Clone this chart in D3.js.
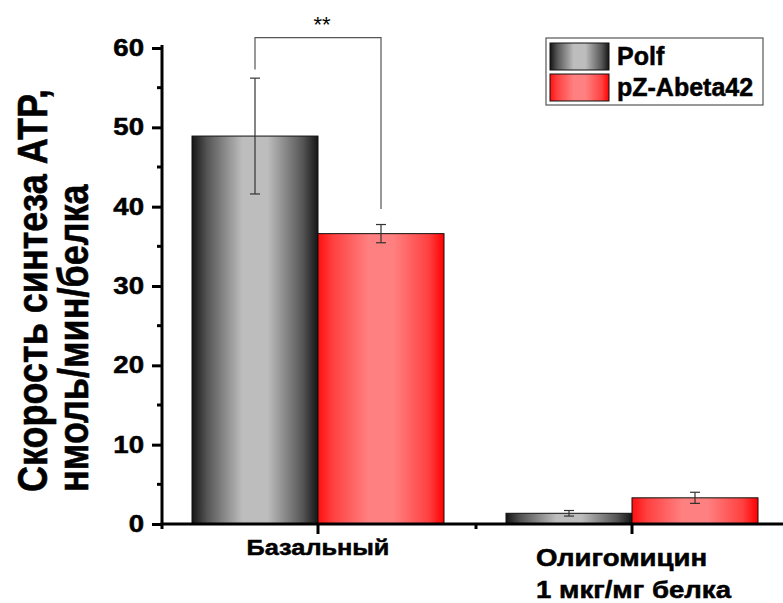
<!DOCTYPE html>
<html>
<head>
<meta charset="utf-8">
<script src="https://cdn.jsdelivr.net/npm/d3@7"></script>
<style>
  body { margin: 0; background: #fff; }
  svg { display: block; font-family: "Liberation Sans", Arial, sans-serif; }
  .heavy { stroke: #000; stroke-width: 0.5px; }
</style>
</head>
<body>
<div id="chart"></div>
<script>
const categories = ["Базальный", "Олигомицин|1 мкг/мг белка"];
const series = ["Polf", "pZ-Abeta42"];
const polfValues = [48.9, 1.35];
const polfErrors = [7.3, 0.35];
const abetaValues = [36.6, 3.3];
const abetaErrors = [1.15, 0.7];
const yTicks = [0, 10, 20, 30, 40, 50, 60];
// bracket: [left bottom, top, right bottom] in data units
const bracketLevels = [57.3, 61.3, 39.7];
const bracketLabel = "**";
const yTitle = ["Скорость синтеза АТР,", "нмоль/мин/белка"];

const width = 783, height = 603;
const svg = d3.select("#chart").append("svg")
  .attr("width", width)
  .attr("height", height);

const x = d3.scaleBand().domain(categories).range([161, 789]);
const xs = d3.scaleBand().domain(series).range([-126, 126]);
const y = d3.scaleLinear().domain([0, 60]).range([524, 48]);

const defs = svg.append("defs");
const grad = (id, stops) => {
  const g = defs.append("linearGradient").attr("id", id)
    .attr("x1", "0%").attr("x2", "100%").attr("y1", "0%").attr("y2", "0%");
  stops.forEach(([o, c]) => g.append("stop").attr("offset", o).attr("stop-color", c));
};
grad("gPolf", [["0%", "#151515"], ["12%", "#555"], ["40%", "#bdbdbd"], ["60%", "#bdbdbd"], ["88%", "#555"], ["100%", "#151515"]]);
grad("gAbeta", [["0%", "#ff1010"], ["12%", "#ff4040"], ["40%", "#ff8080"], ["60%", "#ff8080"], ["88%", "#ff4040"], ["100%", "#ff0000"]]);

const rows = categories.map((c, i) => [
  { cat: c, s: series[0], v: polfValues[i], e: polfErrors[i], fill: "url(#gPolf)" },
  { cat: c, s: series[1], v: abetaValues[i], e: abetaErrors[i], fill: "url(#gAbeta)" }
]).flat();

const cx = d => x(d.cat) + x.bandwidth() / 2 + xs(d.s);

svg.selectAll("rect.bar")
  .data(rows)
  .join("rect")
  .attr("class", "bar")
  .attr("x", cx)
  .attr("y", d => y(d.v))
  .attr("width", xs.bandwidth())
  .attr("height", d => y(0) - y(d.v))
  .attr("fill", d => d.fill)
  .attr("stroke", "#111")
  .attr("stroke-width", 1);

// error bars
const eb = svg.selectAll("g.err").data(rows).join("g").attr("class", "err")
  .attr("stroke", "#333").attr("stroke-width", 1.2);
const mid = d => cx(d) + xs.bandwidth() / 2;
eb.append("line").attr("x1", mid).attr("x2", mid)
  .attr("y1", d => y(d.v + d.e)).attr("y2", d => y(d.v - d.e));
eb.append("line").attr("x1", d => mid(d) - 5).attr("x2", d => mid(d) + 5)
  .attr("y1", d => y(d.v + d.e)).attr("y2", d => y(d.v + d.e));
eb.append("line").attr("x1", d => mid(d) - 5).attr("x2", d => mid(d) + 5)
  .attr("y1", d => y(d.v - d.e)).attr("y2", d => y(d.v - d.e));

// y axis
const yAxis = svg.append("g").attr("transform", "translate(162,0)")
  .call(d3.axisLeft(y).tickValues(yTicks).tickSize(10).tickPadding(9).tickFormat(d3.format("d")));
yAxis.select(".domain").attr("stroke-width", 3).attr("d", `M0,${y(60) - 3}V${y(0)}`);
yAxis.selectAll(".tick line").attr("stroke-width", 3);
yAxis.selectAll(".tick text")
  .attr("x", 0)
  .attr("class", "heavy")
  .attr("transform", "translate(-18,0) scale(1.2,1)")
  .attr("font-size", 23).attr("font-weight", "bold").attr("fill", "#000")
  .attr("font-family", "Liberation Sans, Arial, sans-serif");
svg.append("g").attr("transform", "translate(162,0)")
  .selectAll("line").data(d3.range(5, 60, 10)).join("line")
  .attr("x1", -5).attr("x2", 0).attr("y1", d => y(d)).attr("y2", d => y(d))
  .attr("stroke", "#000").attr("stroke-width", 3);

// x axis
svg.append("line").attr("x1", 160.5).attr("x2", 790).attr("y1", y(0)).attr("y2", y(0))
  .attr("stroke", "#000").attr("stroke-width", 3);
svg.selectAll("line.xmaj").data(categories).join("line").attr("class", "xmaj")
  .attr("x1", d => x(d) + x.bandwidth() / 2).attr("x2", d => x(d) + x.bandwidth() / 2)
  .attr("y1", y(0)).attr("y2", y(0) + 10).attr("stroke", "#000").attr("stroke-width", 3);
svg.selectAll("line.xmin").data(categories).join("line").attr("class", "xmin")
  .attr("x1", d => x(d) + 1).attr("x2", d => x(d) + 1)
  .attr("y1", y(0)).attr("y2", y(0) + 5).attr("stroke", "#000").attr("stroke-width", 3);

// x labels
svg.selectAll("g.xl").data(categories).join("g").attr("class", "xl")
  .each(function (d) {
    const parts = d.split("|");
    const c = x(d) + x.bandwidth() / 2;
    const g = d3.select(this);
    if (parts.length === 1) {
      g.append("text").attr("class", "heavy").attr("transform", `translate(${c},555) scale(1.15,1)`)
        .attr("text-anchor", "middle").attr("font-size", 22).attr("font-weight", "bold")
        .text(parts[0]);
    } else {
      parts.forEach((p, j) => g.append("text").attr("class", "heavy")
        .attr("transform", `translate(${c - 96},${566 + j * 32}) scale(1.2,1)`)
        .attr("font-size", 23).attr("font-weight", "bold").text(p));
    }
  });

// y title
svg.selectAll("text.yt").data(yTitle).join("text").attr("class", "yt heavy")
  .attr("transform", (d, i) => `translate(${47 + i * 41},492) scale(1.2,1) rotate(-90)`)
  .attr("font-size", 36).attr("font-weight", "bold").attr("fill", "#000")
  .text(d => d);

// significance bracket
const bx1 = mid(rows[0]), bx2 = mid(rows[1]);
svg.append("path")
  .attr("d", `M${bx1},${y(bracketLevels[0])}V${y(bracketLevels[1])}H${bx2}V${y(bracketLevels[2])}`)
  .attr("fill", "none").attr("stroke", "#555").attr("stroke-width", 1.2);
svg.append("text").attr("x", (bx1 + bx2) / 2 + 4).attr("y", 32).attr("text-anchor", "middle")
  .attr("font-size", 22).attr("fill", "#000").text(bracketLabel);

// legend
const lg = svg.append("g").attr("transform", "translate(546,38)");
lg.append("rect").attr("width", 217).attr("height", 67).attr("fill", "#fff")
  .attr("stroke", "#555").attr("stroke-width", 1.2);
const li = lg.selectAll("g.li").data(series).join("g").attr("class", "li")
  .attr("transform", (d, i) => `translate(4,${5 + i * 31})`);
li.append("rect").attr("width", 59).attr("height", 27)
  .attr("fill", (d, i) => i === 0 ? "url(#gPolf)" : "url(#gAbeta)")
  .attr("stroke", "#111").attr("stroke-width", 1);
li.append("text").attr("class", "heavy").attr("x", 67).attr("y", 22).attr("font-size", 25).attr("font-weight", "bold")
  .attr("fill", "#000").text(d => d);
</script>
</body>
</html>
